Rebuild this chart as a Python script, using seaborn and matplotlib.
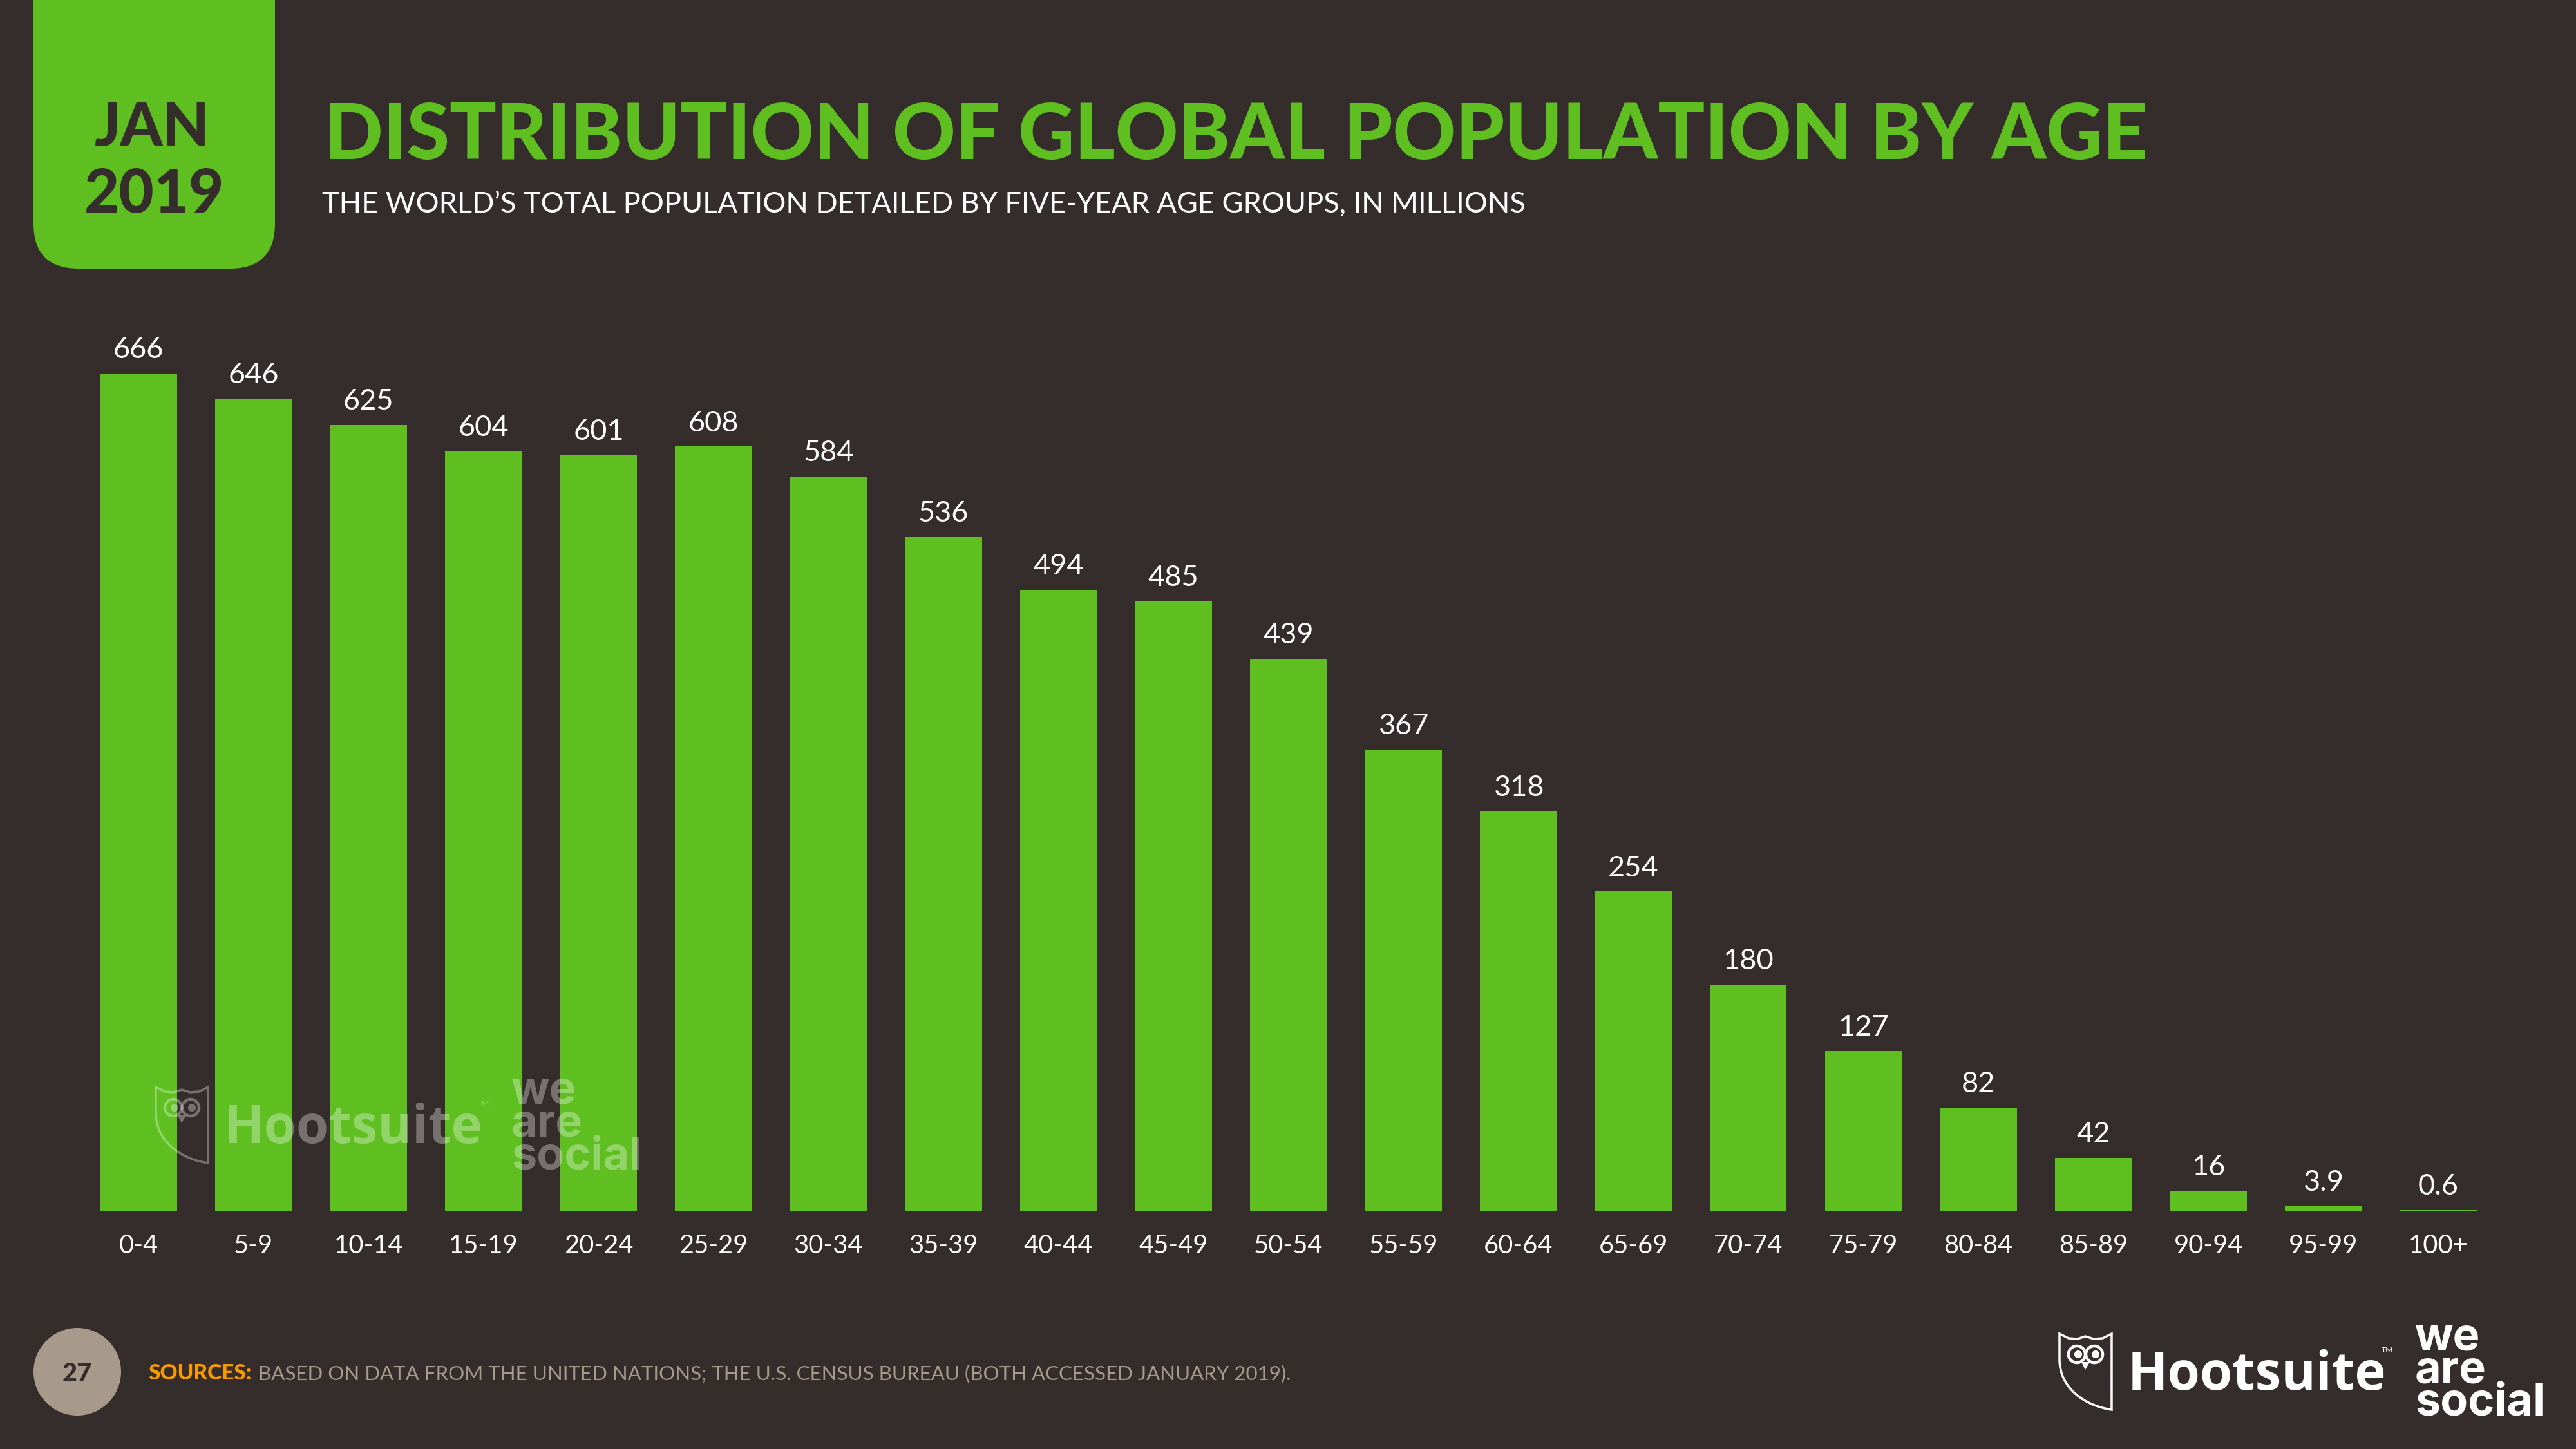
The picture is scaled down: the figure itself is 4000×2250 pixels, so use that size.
import matplotlib
matplotlib.use("Agg")
import matplotlib.pyplot as plt
import seaborn as sns
from matplotlib.patches import Circle, FancyBboxPatch, PathPatch, Polygon
from matplotlib.path import Path

age_groups = ["0-4", "5-9", "10-14", "15-19", "20-24", "25-29", "30-34", "35-39",
              "40-44", "45-49", "50-54", "55-59", "60-64", "65-69", "70-74", "75-79",
              "80-84", "85-89", "90-94", "95-99", "100+"]
population = [666, 646, 625, 604, 601, 608, 584, 536, 494, 485, 439, 367, 318, 254,
              180, 127, 82, 42, 16, 3.9, 0.6]

BG = "#352D2B"
GREEN = "#5FBF21"
TAUPE = "#A89A8B"
ORANGE = "#F79A00"
W, H = 4000, 2250

sns.set_theme(style="white", rc={"figure.facecolor": BG, "axes.facecolor": BG})
plt.rcParams["font.family"] = ["Lato", "DejaVu Sans"]

fig = plt.figure(figsize=(16, 9), dpi=250)

# chart axes, placed from pixel positions of the bars (1.952 px per million)
left, right, base, top = 126, 3875.5, 1880, 500
ax = fig.add_axes([left / W, 1 - base / H, (right - left) / W, (base - top) / H])
sns.barplot(x=age_groups, y=population, color=GREEN, saturation=1, width=0.667,
            linewidth=0, ax=ax)
ax.set_xlim(-0.5, 20.5)
ax.set_ylim(0, (base - top) / 1.952)
ax.set_xlabel("")
ax.set_ylabel("")
ax.set_yticks([])
sns.despine(ax=ax, left=True, bottom=True)
ax.tick_params(axis="x", length=0, pad=10.5, labelsize=11.5, labelcolor="white")
ax.bar_label(ax.containers[0], labels=[f"{v:g}" for v in population], padding=4.5,
             color="white", fontsize=13)

# overlay in pixel coordinates for the slide furniture
ov = fig.add_axes([0, 0, 1, 1], facecolor="none")
ov.set_xlim(0, W)
ov.set_ylim(H, 0)
ov.axis("off")


def draw_logos(dx=0, dy=0, alpha=1.0):
    """Hootsuite and We Are Social marks, shifted by dx, dy."""
    x0, y0 = 3198 + dx, 2071 + dy
    verts = [(0, 0), (14, 7), (28, 8), (40, 4), (53, 8), (67, 7), (81, 0), (81, 118),
             (40, 112), (0, 85), (0, 40), (0, 0)]
    codes = [Path.MOVETO] + [Path.LINETO] * 7 + [Path.CURVE4] * 3 + [Path.CLOSEPOLY]
    shield = Path([(x0 + x, y0 + y) for x, y in verts], codes)
    ov.add_patch(PathPatch(shield, fc="none", ec="white", lw=1.0, alpha=alpha))
    for ex in (27, 54):
        ov.add_patch(Circle((x0 + ex, y0 + 32), 13, fc="none", ec="white", lw=1.3, alpha=alpha))
        ov.add_patch(Circle((x0 + ex + 2, y0 + 32), 6, fc="white", ec="none", alpha=alpha))
    beak = [(x0 + 34, y0 + 44), (x0 + 47, y0 + 44), (x0 + 40, y0 + 56)]
    ov.add_patch(Polygon(beak, fc="white", ec="none", alpha=alpha))
    ov.text(3304 + dx, 2158 + dy, "Hootsuite", color="white", fontsize=23.5, fontweight="bold",
            family=["Open Sans", "DejaVu Sans"], alpha=alpha, va="baseline")
    ov.text(3698 + dx, 2100 + dy, "TM", color="white", fontsize=3.5, alpha=alpha, va="baseline")
    ov.text(3750 + dx, 2212 + dy, "we\nare\nsocial", color="white", fontsize=20.2,
            fontweight="bold", family=["Inter", "DejaVu Sans"], alpha=alpha,
            va="bottom", ha="left", linespacing=0.72)


# date tab
ov.add_patch(FancyBboxPatch((52, -150), 375, 567, boxstyle="round,pad=0,rounding_size=70",
                            fc=GREEN, ec="none"))
ov.text(236, 226, "JAN", color=BG, fontsize=27, fontweight=900, ha="center", va="baseline")
ov.text(239, 330, "2019", color=BG, fontsize=27, fontweight=900, ha="center", va="baseline")

ov.text(503, 247, "DISTRIBUTION OF GLOBAL POPULATION BY AGE", color=GREEN, fontsize=34.8,
        fontweight=900, va="baseline")
ov.text(500, 330, "THE WORLD’S TOTAL POPULATION DETAILED BY FIVE-YEAR AGE GROUPS, IN MILLIONS",
        color="white", fontsize=13, va="baseline")

# footer
ov.add_patch(Circle((120, 2130), 68, fc=TAUPE, ec="none"))
ov.text(120, 2145, "27", color=BG, fontsize=11.5, fontweight=900, ha="center", va="baseline")
ov.text(230, 2142, "SOURCES:", color=ORANGE, fontsize=9.6, fontweight=900, va="baseline")
ov.text(401, 2142, "BASED ON DATA FROM THE UNITED NATIONS; THE U.S. CENSUS BUREAU (BOTH ACCESSED JANUARY 2019).",
        color=TAUPE, fontsize=9.03, va="baseline")

draw_logos()
draw_logos(dx=-2956, dy=-383, alpha=0.33)

fig.savefig("out.png", dpi=250, facecolor=BG)
